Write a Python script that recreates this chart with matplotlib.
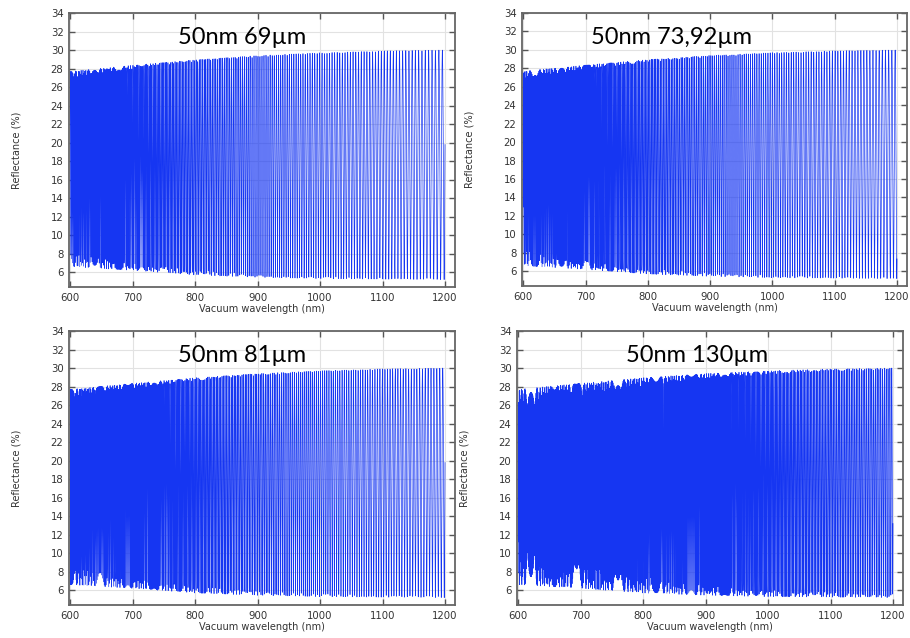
# ============================================================
# Reflektanzspektren: 50 nm Schicht auf Substraten verschiedener Dicke
# Fabry-Perot-Oszillationen zwischen oberer und unterer Einhüllenden,
# berechnet im Raster 600..1200 nm, vier Panels (2x2).
# ============================================================

import numpy as np
import matplotlib.pyplot as plt

# ============================================================
# PART 1 — Inputs
# ============================================================
stuetz_nm  = [600, 700, 800, 900, 1000, 1100, 1200]
r_oben     = [27.7, 28.35, 28.95, 29.4, 29.7, 29.9, 30.0]   # obere Einhüllende (%)
r_unten    = [6.6, 6.2, 5.7, 5.45, 5.3, 5.25, 5.2]          # untere Einhüllende (%)
dicken_um  = [69.0, 73.92, 81.0, 130.0]
titel      = ["50nm 69µm", "50nm 73,92µm", "50nm 81µm", "50nm 130µm"]
titel_x_nm = [875, 838, 875, 887]

n_substrat = 1.85    # Brechzahl des dicken Substrats
schritt_nm = 0.2     # Abtastschritt der Wellenlänge
lam_min    = 600.0
lam_max    = 1200.0

x_ticks = np.arange(600, 1201, 100)
y_ticks = np.arange(6, 35, 2)

# Achsenrahmen in Pixeln (links, oben, rechts, unten) bei 910x638
rahmen_px = [(69, 13, 455, 287), (522, 13, 907, 286),
             (69, 331, 455, 605), (517, 331, 903, 605)]

linien_farbe = "#1636f2"


# ============================================================
# PART 2 — Implementation
# ============================================================
def reflektanz(lam, d_um):
    # Airy-Form zwischen den Einhüllenden
    hi = np.interp(lam, stuetz_nm, r_oben)
    lo = np.interp(lam, stuetz_nm, r_unten)
    r = (n_substrat - 1) / (n_substrat + 1)
    F = 4 * r**2 / (1 - r**2) ** 2
    phi = 2 * np.pi * n_substrat * d_um * 1000.0 / lam
    s = np.sin(phi) ** 2
    airy = F * s / (1 + F * s) * (1 + F) / F
    return lo + (hi - lo) * airy


fig = plt.figure(figsize=(9.1, 6.38), dpi=100)
W, H = 910.0, 638.0

lam = np.arange(lam_min, lam_max + schritt_nm / 2, schritt_nm)

for k in range(4):
    l, t, r, b = rahmen_px[k]
    ax = fig.add_axes([l / W, 1 - b / H, (r - l) / W, (b - t) / H])
    ax.plot(lam, reflektanz(lam, dicken_um[k]), color=linien_farbe, lw=0.48)

    ax.set_xlim(598, 1216)
    ax.set_ylim(4.4, 34)
    ax.set_xticks(x_ticks)
    ax.set_yticks(y_ticks)
    ax.grid(True, color="#e2e2e2", lw=0.8)
    ax.set_axisbelow(True)
    ax.tick_params(direction="in", length=4, width=1, color="#555555",
                   top=True, right=True, labelsize=7.3, labelcolor="#333333", pad=4)
    for sp in ax.spines.values():
        sp.set_color("#666666")
        sp.set_linewidth(1.3)
    ax.set_xlabel("Vacuum wavelength (nm)", fontsize=7, color="#333333", labelpad=1)
    ax.set_ylabel("Reflectance (%)", fontsize=7, color="#333333", labelpad=21)

    ax.text(titel_x_nm[k], 31.3, titel[k], ha="center", va="center",
            fontsize=17, family=["Lato", "DejaVu Sans"], color="black")

fig.savefig("out.png", dpi=100)
